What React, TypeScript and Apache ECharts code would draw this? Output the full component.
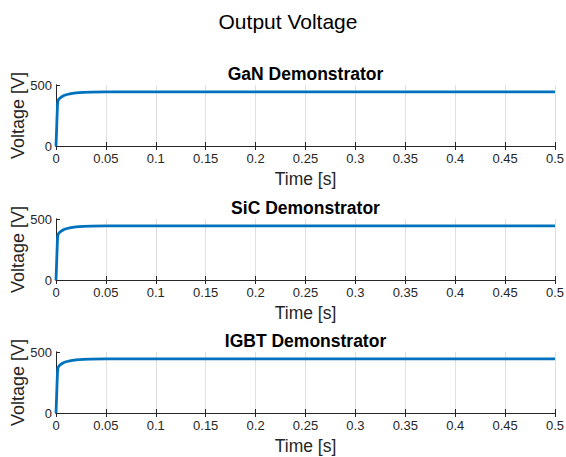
import React, { useEffect, useRef } from "react";
import * as echarts from "echarts";

// Simulation time points [s]
const timeS = [0, 0.0005, 0.001, 0.0015, 0.002, 0.003, 0.005, 0.0075, 0.01, 0.015, 0.02, 0.027, 0.035, 0.05, 0.07, 0.1, 0.2, 0.3, 0.4, 0.5];

// Output voltage of each demonstrator [V]
const ganVoltage = [0, 110, 230, 340, 372, 385, 400, 412, 420, 430, 436, 440, 442, 443, 443, 443, 443, 443, 443, 443];
const sicVoltage = [0, 110, 230, 340, 372, 385, 400, 412, 420, 430, 436, 440, 442, 443, 443, 443, 443, 443, 443, 443];
const igbtVoltage = [0, 110, 230, 340, 372, 385, 400, 412, 420, 430, 436, 440, 442, 443, 443, 443, 443, 443, 443, 443];

const panelTitles = ["GaN Demonstrator", "SiC Demonstrator", "IGBT Demonstrator"];
const panelSeries = [ganVoltage, sicVoltage, igbtVoltage];
const xTicks = { min: 0, max: 0.5, interval: 0.05 };
const yTicks = { min: 0, max: 500, interval: 500 };

const FONT = '"Liberation Sans", Arial, Helvetica, sans-serif';
const TEXT = "#262626";
const AXIS = "#262626";
const LINE = "#0072BD";

export default function App() {
  const ref = useRef<HTMLDivElement>(null);

  useEffect(() => {
    if (!ref.current) return;
    const chart = echarts.init(ref.current, null, { renderer: "svg" });

    const gridTops = [85, 219, 352];
    const gridHeight = 61;
    const left = 56;
    const right = 11;

    const grids = gridTops.map((top) => ({
      left,
      right,
      top,
      height: gridHeight,
      containLabel: false,
      outerBoundsMode: "none",
    }));

    const xAxes: any[] = [];
    const yAxes: any[] = [];
    gridTops.forEach((_, i) => {
      xAxes.push({
        type: "value",
        gridIndex: i,
        position: "bottom",
        min: xTicks.min,
        max: xTicks.max,
        interval: xTicks.interval,
        name: "Time [s]",
        nameLocation: "middle",
        nameGap: 24,
        nameMoveOverlap: false,
        nameTextStyle: { fontFamily: FONT, fontSize: 17.5, color: TEXT },
        axisLine: { show: true, lineStyle: { color: AXIS, width: 1 } },
        axisTick: { show: true, inside: true, length: 4, lineStyle: { color: AXIS } },
        axisLabel: {
          fontFamily: FONT,
          fontSize: 13,
          color: TEXT,
          margin: 6,
          formatter: (v: number) => String(+v.toFixed(2)),
        },
        splitLine: { show: true, lineStyle: { color: "#dfdfdf", width: 1 } },
      });
      xAxes.push({
        type: "value",
        gridIndex: i,
        position: "top",
        min: xTicks.min,
        max: xTicks.max,
        interval: xTicks.interval,
        axisLine: { show: true, lineStyle: { color: AXIS, width: 1 } },
        axisTick: { show: true, inside: true, length: 4, lineStyle: { color: AXIS } },
        axisLabel: { show: false },
        splitLine: { show: false },
      });
      yAxes.push({
        type: "value",
        gridIndex: i,
        position: "left",
        min: yTicks.min,
        max: yTicks.max,
        interval: yTicks.interval,
        name: "Voltage [V]",
        nameLocation: "middle",
        nameGap: 29,
        nameMoveOverlap: false,
        nameTextStyle: { fontFamily: FONT, fontSize: 18, color: TEXT },
        axisLine: { show: true, lineStyle: { color: AXIS, width: 1 } },
        axisTick: { show: true, inside: true, length: 4, lineStyle: { color: AXIS } },
        axisLabel: { fontFamily: FONT, fontSize: 13, color: TEXT, margin: 4 },
        splitLine: { show: false },
      });
      yAxes.push({
        type: "value",
        gridIndex: i,
        position: "right",
        min: yTicks.min,
        max: yTicks.max,
        interval: yTicks.interval,
        axisLine: { show: true, lineStyle: { color: AXIS, width: 1 } },
        axisTick: { show: false },
        axisLabel: { show: false },
        splitLine: { show: false },
      });
    });

    const titles: any[] = [
      {
        text: "Output Voltage",
        left: 283,
        top: 6,
        textAlign: "center",
        textStyle: { fontFamily: FONT, fontSize: 21, fontWeight: "normal", color: "#000" },
      },
    ];
    panelTitles.forEach((t, i) => {
      titles.push({
        text: t,
        left: left + (566 - left - right) / 2 - 5,
        top: gridTops[i] - 25,
        textAlign: "center",
        textStyle: { fontFamily: FONT, fontSize: 17.5, fontWeight: "bold", color: "#000" },
      });
    });

    const series = panelSeries.map((vals, i) => ({
      type: "line",
      xAxisIndex: i * 2,
      yAxisIndex: i * 2,
      data: timeS.map((t, k) => [t, vals[k]]),
      showSymbol: false,
      smooth: false,
      lineStyle: { color: LINE, width: 2.8 },
      itemStyle: { color: LINE },
    }));

    chart.setOption({
      animation: false,
      backgroundColor: "#ffffff",
      title: titles,
      grid: grids,
      xAxis: xAxes,
      yAxis: yAxes,
      series,
    });

    return () => chart.dispose();
  }, []);

  return (
    <div
      ref={ref}
      style={{ position: "fixed", left: 0, top: 0, width: 566, height: 457 }}
    />
  );
}
